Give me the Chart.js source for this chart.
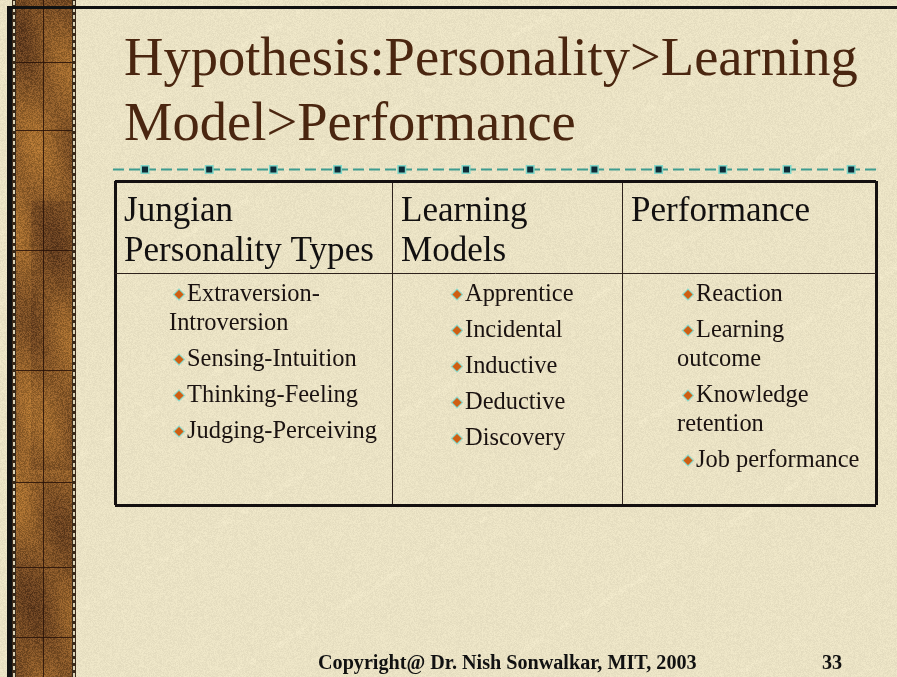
<!DOCTYPE html>
<html><head><meta charset="utf-8">
<script src="https://cdn.jsdelivr.net/npm/chart.js@4/dist/chart.umd.min.js"></script>
<style>html,body{margin:0;padding:0;background:#ebe3c5;overflow:hidden}canvas{display:block}</style>
</head><body>
<canvas id="c" width="897" height="677"></canvas>
<script>
// ---- content ----
const titleLines = ["Hypothesis:Personality>Learning", "Model>Performance"];
const categories = ["Jungian Personality Types", "Learning Models", "Performance"];
const headerLines = [["Jungian", "Personality Types"], ["Learning", "Models"], ["Performance"]];
const personalityTypes = [["Extraversion-", "Introversion"], ["Sensing-Intuition"], ["Thinking-Feeling"], ["Judging-Perceiving"]];
const learningModels = [["Apprentice"], ["Incidental"], ["Inductive"], ["Deductive"], ["Discovery"]];
const performanceMeasures = [["Reaction"], ["Learning", "outcome"], ["Knowledge", "retention"], ["Job performance"]];
const footerText = "Copyright@ Dr. Nish Sonwalkar, MIT, 2003";
const slideNumber = "33";

// ---- layout / style ----
const W = 897, H = 677;
const L = {
  table: {left: 115, top: 181, right: 876, bottom: 505},
  colWidths: [277, 230, 254],
  headerHeight: 92,
  firstItem: 113.5, itemGap: 36, wrapGap: 29,
  bulletIndent: [64, 65, 66],
  wrapOffset: [-10, 0, -11],
  textGap: 8,
  headerPadX: 9, headerBase: [40, 80],
  titleX: 124, titleBase: [75, 140], titleWidth: 734,
};
const SERIF = '"Liberation Serif","Times New Roman",Times,serif';
const colEdges = L.colWidths.reduce((a, w) => (a.push(a[a.length - 1] + w), a), [0]);
const tableW = colEdges[colEdges.length - 1];
const tableH = L.table.bottom - L.table.top;

const columns = [personalityTypes, learningModels, performanceMeasures];
const bulletPoints = [], bulletLines = [];
columns.forEach((items, c) => {
  let y = L.firstItem;
  items.forEach(lines => {
    bulletPoints.push({x: colEdges[c] + L.bulletIndent[c], y});
    bulletLines.push({lines, col: c});
    y += (lines.length - 1) * L.wrapGap + L.itemGap;
  });
});

function hash(x, y) {
  let h = (x * 374761393 + y * 668265263) | 0;
  h = (h ^ (h >>> 13)) * 1274126177 | 0;
  return ((h ^ (h >>> 16)) >>> 0) / 4294967295;
}

let bgCache = null;
function buildBackground() {
  const cv = document.createElement('canvas');
  cv.width = W; cv.height = H;
  const g = cv.getContext('2d');
  const img = g.createImageData(W, H);
  const d = img.data;
  for (let y = 0; y < H; y++) {
    for (let x = 0; x < W; x++) {
      const i = (y * W + x) * 4;
      const n = (hash(x, y) - 0.5) * 14;
      const streak = Math.max(0, Math.sin((x * 0.55 + y * 0.9) * 0.045) - 0.985) * 250 * (hash(x >> 3, y >> 3) > 0.5 ? 1 : 0);
      d[i] = 234 + n + streak; d[i + 1] = 226 + n + streak; d[i + 2] = 196 + n * 0.9 + streak; d[i + 3] = 255;
    }
  }
  // left brown strip
  for (let y = 0; y < H; y++) {
    for (let x = 16; x < 72; x++) {
      const i = (y * W + x) * 4;
      const sm = Math.sin(y * 0.021 + x * 0.05) * 0.5 + Math.sin(y * 0.047 - x * 0.09 + 1.3) * 0.35 + Math.sin(y * 0.008 + 2.0) * 0.4;
      const dark = Math.min(1, Math.max(0, 0.45 + sm * 0.5 + (y > 200 && y < 470 && x > 30 ? 0.25 : 0)));
      const n = (hash(x + 1000, y) - 0.5) * 50;
      d[i] = 168 - dark * 70 + n; d[i + 1] = 112 - dark * 52 + n * 0.7; d[i + 2] = 48 - dark * 18 + n * 0.4;
    }
  }
  g.putImageData(img, 0, 0);
  // film edges
  for (const ex of [12, 72]) {
    g.fillStyle = '#3a2a1a'; g.fillRect(ex, 0, 4, H);
    for (let y = 0; y < H; y += 7) { g.fillStyle = '#d8d0b4'; g.fillRect(ex + 1, y + 1, 2, 4); }
  }
  g.strokeStyle = 'rgba(40,18,8,0.85)'; g.lineWidth = 1;
  g.beginPath(); g.moveTo(43.5, 0); g.lineTo(43.5, H);
  for (const hy of [62, 130, 250, 370, 482, 567, 637]) { g.moveTo(16, hy + 0.5); g.lineTo(72, hy + 0.5); }
  g.stroke();
  // dark frame
  g.fillStyle = '#111'; g.fillRect(7, 6, 5, H - 6); g.fillRect(7, 6, W - 7, 3);
  return cv;
}

const bgPlugin = {
  id: 'slideBg',
  beforeDraw(chart) {
    if (!bgCache) bgCache = buildBackground();
    chart.ctx.drawImage(bgCache, 0, 0);
  }
};

function fitFont(g, text, weight, target, base) {
  g.font = `${weight} ${base}px ${SERIF}`;
  const w = g.measureText(text).width;
  return base * target / w;
}

const textPlugin = {
  id: 'slideText',
  afterDraw(chart) {
    const g = chart.ctx;
    const xs = chart.scales.x;
    g.save();
    // title
    const ts = fitFont(g, titleLines[0], 'normal', L.titleWidth, 56);
    g.font = `normal ${ts}px ${SERIF}`;
    g.fillStyle = '#4a2610'; g.textBaseline = 'alphabetic'; g.textAlign = 'left';
    titleLines.forEach((t, i) => g.fillText(t, L.titleX, L.titleBase[i]));
    // dashed rule
    const ry = 169.5;
    g.strokeStyle = '#3f9c90'; g.lineWidth = 2; g.setLineDash([11, 5]);
    g.beginPath(); g.moveTo(113, ry); g.lineTo(878, ry); g.stroke();
    g.setLineDash([]);
    for (let i = 0; i < 12; i++) {
      const mx = 145 + i * 64.2;
      g.fillStyle = '#7fd6c8'; g.fillRect(mx - 4.5, ry - 4.5, 9, 9);
      g.fillStyle = '#0d2a36'; g.fillRect(mx - 3, ry - 3, 6, 6);
    }
    // headers
    const hs = fitFont(g, headerLines[0][1], 'normal', 250, 32);
    g.font = `normal ${hs}px ${SERIF}`; g.fillStyle = '#121010';
    headerLines.forEach((lines, c) => {
      const x = xs.getPixelForValue(colEdges[c]) + L.headerPadX;
      lines.forEach((t, k) => g.fillText(t, x, L.table.top + L.headerBase[k]));
    });
    // items beside bullets
    const bs = fitFont(g, 'Judging-Perceiving', 'normal', 190, 22);
    g.font = `normal ${bs}px ${SERIF}`; g.fillStyle = '#1a1210';
    const meta = chart.getDatasetMeta(0);
    meta.data.forEach((el, i) => {
      const info = bulletLines[i];
      info.lines.forEach((t, k) => {
        const x = k === 0 ? el.x + L.textGap : el.x + L.wrapOffset[info.col];
        g.fillText(t, x, el.y + 6 + k * L.wrapGap);
      });
    });
    // footer
    const fs = fitFont(g, footerText, 'bold', 379, 17);
    g.font = `bold ${fs}px ${SERIF}`; g.fillStyle = '#111';
    g.fillText(footerText, 318, 669);
    g.fillText(slideNumber, 822, 669);
    g.restore();
  }
};

const isEdge = (v, max) => v === 0 || v === max;
new Chart(document.getElementById('c'), {
  type: 'scatter',
  data: {
    labels: categories,
    datasets: [{
      label: 'items',
      data: bulletPoints,
      pointStyle: 'rectRot', pointRadius: 5.5, pointHoverRadius: 5.5,
      pointBackgroundColor: '#cf5e12', pointBorderColor: '#8fd8c8', pointBorderWidth: 1.2,
      backgroundColor: '#cf5e12', borderColor: '#8fd8c8'
    }]
  },
  options: {
    responsive: false, animation: false, devicePixelRatio: 1, events: [],
    layout: {padding: {left: L.table.left, top: L.table.top, right: W - L.table.right, bottom: H - L.table.bottom}},
    plugins: {legend: {display: false}, tooltip: {enabled: false}, title: {display: false}},
    scales: {
      x: {
        type: 'linear', min: 0, max: tableW,
        afterBuildTicks: s => { s.ticks = colEdges.map(v => ({value: v})); },
        afterFit: s => { s.height = 0; },
        ticks: {display: false},
        border: {display: false},
        grid: {drawTicks: false,
          color: c => isEdge(c.tick.value, tableW) ? '#141010' : '#2e221c',
          lineWidth: c => isEdge(c.tick.value, tableW) ? 3 : 1}
      },
      y: {
        type: 'linear', min: 0, max: tableH, reverse: true,
        afterBuildTicks: s => { s.ticks = [0, L.headerHeight, tableH].map(v => ({value: v})); },
        afterFit: s => { s.width = 0; },
        ticks: {display: false},
        border: {display: false},
        grid: {drawTicks: false,
          color: c => isEdge(c.tick.value, tableH) ? '#141010' : '#2e221c',
          lineWidth: c => isEdge(c.tick.value, tableH) ? 3 : 1}
      }
    }
  },
  plugins: [bgPlugin, textPlugin]
});
</script>
</body></html>
